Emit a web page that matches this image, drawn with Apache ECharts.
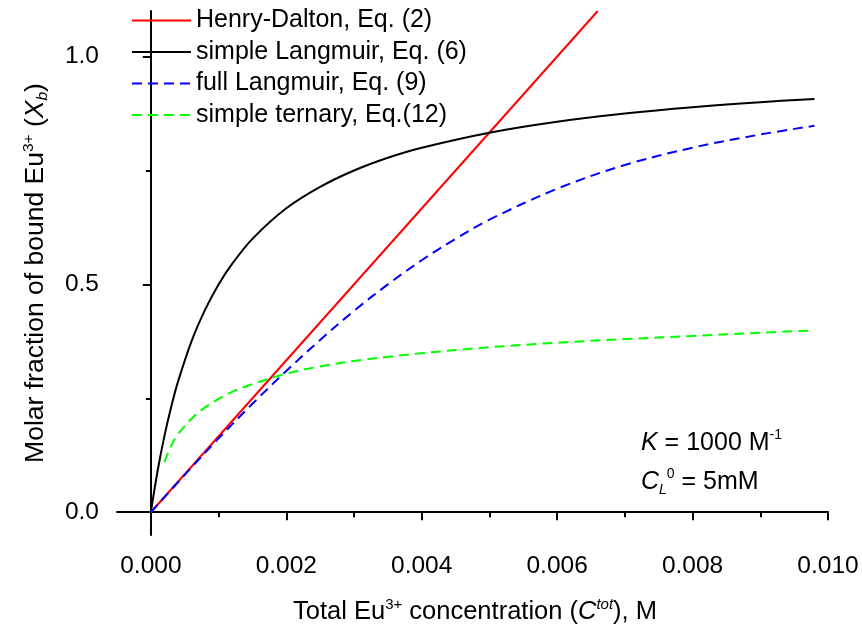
<!DOCTYPE html>
<html>
<head>
<meta charset="utf-8">
<script src="https://cdn.jsdelivr.net/npm/echarts@6/dist/echarts.min.js"></script>
<style>
  html, body { margin: 0; padding: 0; background: #fff; }
  #chart { width: 862px; height: 631px; }
</style>
</head>
<body>
<div id="chart"></div>
<script>
// Total Eu3+ concentration (M) and molar fraction of bound Eu3+ for each model
const henryX = [0, 0.0066];
const henryY = [0, 1.1];

const langmuirX = [0, 0.0001, 0.0002, 0.0003, 0.0004, 0.0006, 0.0008, 0.001, 0.0012, 0.0015,
                   0.002, 0.0025, 0.003, 0.0035, 0.004, 0.005, 0.006, 0.007, 0.008, 0.009, 0.0098];
const langmuirY = [0, 0.091, 0.167, 0.231, 0.286, 0.375, 0.444, 0.5, 0.545, 0.6,
                   0.667, 0.714, 0.75, 0.778, 0.8, 0.833, 0.857, 0.875, 0.889, 0.9, 0.907];

const fullX = [0, 0.0005, 0.001, 0.0015, 0.002, 0.0025, 0.003, 0.0035, 0.004, 0.0045,
               0.005, 0.006, 0.007, 0.008, 0.009, 0.0098];
const fullY = [0, 0.082, 0.162, 0.238, 0.31, 0.378, 0.442, 0.5, 0.553, 0.6,
               0.642, 0.71, 0.762, 0.8, 0.829, 0.848];

const ternaryX = [0.0002, 0.00035, 0.0006, 0.00085, 0.0012, 0.0015, 0.002, 0.0025, 0.003,
                  0.0035, 0.004, 0.005, 0.006, 0.007, 0.008, 0.009, 0.0098];
const ternaryY = [0.11, 0.16, 0.205, 0.235, 0.264, 0.281, 0.304, 0.32, 0.332,
                  0.341, 0.349, 0.362, 0.372, 0.38, 0.387, 0.394, 0.399];

const seriesNames = ['Henry-Dalton, Eq. (2)', 'simple Langmuir, Eq. (6)',
                     'full Langmuir, Eq. (9)', 'simple ternary, Eq.(12)'];

// Axis ticks
const xMajorTicks = [0, 0.002, 0.004, 0.006, 0.008, 0.010];
const xMinorTicks = [0.001, 0.003, 0.005, 0.007, 0.009];
const yMajorTicks = [0, 0.5, 1.0];
const yMinorTicks = [0.25, 0.75];

const FONT = '"Liberation Sans", Arial, Helvetica, sans-serif';

const pairs = (xs, ys) => xs.map((x, i) => [x, ys[i]]);

function makeRich(fs, supFs) {
  return {
    n: { fontSize: fs, fontFamily: FONT, color: '#000', lineHeight: 30 },
    i: { fontSize: fs, fontFamily: FONT, color: '#000', fontStyle: 'italic', lineHeight: 30 },
    sup: { fontSize: supFs, fontFamily: FONT, color: '#000', verticalAlign: 'top', lineHeight: supFs },
    isup: { fontSize: supFs, fontFamily: FONT, color: '#000', fontStyle: 'italic', verticalAlign: 'top', lineHeight: supFs },
    isub: { fontSize: supFs, fontFamily: FONT, color: '#000', fontStyle: 'italic', verticalAlign: 'bottom', lineHeight: supFs }
  };
}
const xTitleRich = makeRich(25.5, 15);
const yTitleRich = makeRich(26.5, 15.5);
const noteRich = makeRich(25, 14);

const axisLineStyle = { color: '#000', width: 2 };

const chart = echarts.init(document.getElementById('chart'), null, { renderer: 'canvas' });

const curve = (name, xs, ys, color, dashed) => ({
  name: name, type: 'line', xAxisIndex: 0, yAxisIndex: 0,
  data: pairs(xs, ys), showSymbol: false, symbol: 'none',
  smooth: 0.35,
  lineStyle: { color: color, width: 2, type: dashed ? [10, 6] : 'solid' },
  itemStyle: { color: color }
});

chart.setOption({
  backgroundColor: '#fff',
  animation: false,
  grid: { left: 117, right: 34, top: 11, bottom: 96, containLabel: false, outerBoundsMode: 'none' },
  legend: {
    orient: 'vertical',
    left: 131,
    top: 8,
    padding: 0,
    itemWidth: 59,
    itemHeight: 12,
    itemGap: 6.5,
    selectedMode: false,
    itemStyle: { opacity: 0, borderWidth: 0 },
    textStyle: { fontSize: 25, fontFamily: FONT, color: '#000', lineHeight: 24 },
    data: seriesNames
  },
  xAxis: [
    {
      type: 'value',
      min: -0.0005,
      max: 0.010,
      position: 'bottom',
      axisLine: { show: true, lineStyle: axisLineStyle },
      axisTick: { show: true, length: 8, lineStyle: axisLineStyle, customValues: xMajorTicks },
      axisLabel: {
        show: true, customValues: xMajorTicks, margin: 19,
        fontSize: 24.5, fontFamily: FONT, color: '#000',
        formatter: v => v.toFixed(3)
      },
      splitLine: { show: false },
      name: '{n|Total Eu}{sup|3+}{n| concentration (}{i|C}{isup|tot}{n|), M}',
      nameLocation: 'middle',
      nameGap: 62,
      nameTextStyle: { rich: xTitleRich, padding: [0, 0, 0, 5] }
    },
    {
      type: 'value',
      min: -0.0005,
      max: 0.010,
      position: 'bottom',
      axisLine: { show: false },
      axisTick: { show: true, length: 5, lineStyle: axisLineStyle, customValues: xMinorTicks },
      axisLabel: { show: false },
      splitLine: { show: false }
    }
  ],
  yAxis: [
    {
      type: 'value',
      min: -0.05,
      max: 1.1,
      position: 'left',
      axisLine: { show: true, lineStyle: axisLineStyle },
      axisTick: { show: true, length: 8, lineStyle: axisLineStyle, customValues: yMajorTicks },
      axisLabel: {
        show: true, customValues: yMajorTicks, margin: 18,
        fontSize: 24.5, fontFamily: FONT, color: '#000',
        formatter: v => v.toFixed(1)
      },
      splitLine: { show: false },
      name: '{n|Molar fraction of bound Eu}{sup|3+}{n| (}{i|X}{isub|b}{n|)}',
      nameLocation: 'middle',
      nameRotate: 90,
      nameGap: 66,
      nameTextStyle: { rich: yTitleRich }
    },
    {
      type: 'value',
      min: -0.05,
      max: 1.1,
      position: 'left',
      axisLine: { show: false },
      axisTick: { show: true, length: 5, lineStyle: axisLineStyle, customValues: yMinorTicks },
      axisLabel: { show: false },
      splitLine: { show: false }
    }
  ],
  graphic: [
    {
      type: 'text',
      left: 641,
      top: 428,
      style: { text: '{i|K}{n| = 1000 M}{sup|-1}', rich: noteRich }
    },
    {
      type: 'text',
      left: 641,
      top: 467,
      style: { text: '{i|C}{isub|L}{sup|0}{n| = 5mM}', rich: noteRich }
    }
  ],
  series: [
    {
      name: seriesNames[0], type: 'line', xAxisIndex: 0, yAxisIndex: 0,
      data: pairs(henryX, henryY), showSymbol: false, symbol: 'none', clip: true,
      lineStyle: { color: '#ff0000', width: 2 }, itemStyle: { color: '#ff0000' }
    },
    curve(seriesNames[1], langmuirX, langmuirY, '#000000', false),
    curve(seriesNames[2], fullX, fullY, '#0000ff', true),
    curve(seriesNames[3], ternaryX, ternaryY, '#00ff00', true)
  ]
});
</script>
</body>
</html>
